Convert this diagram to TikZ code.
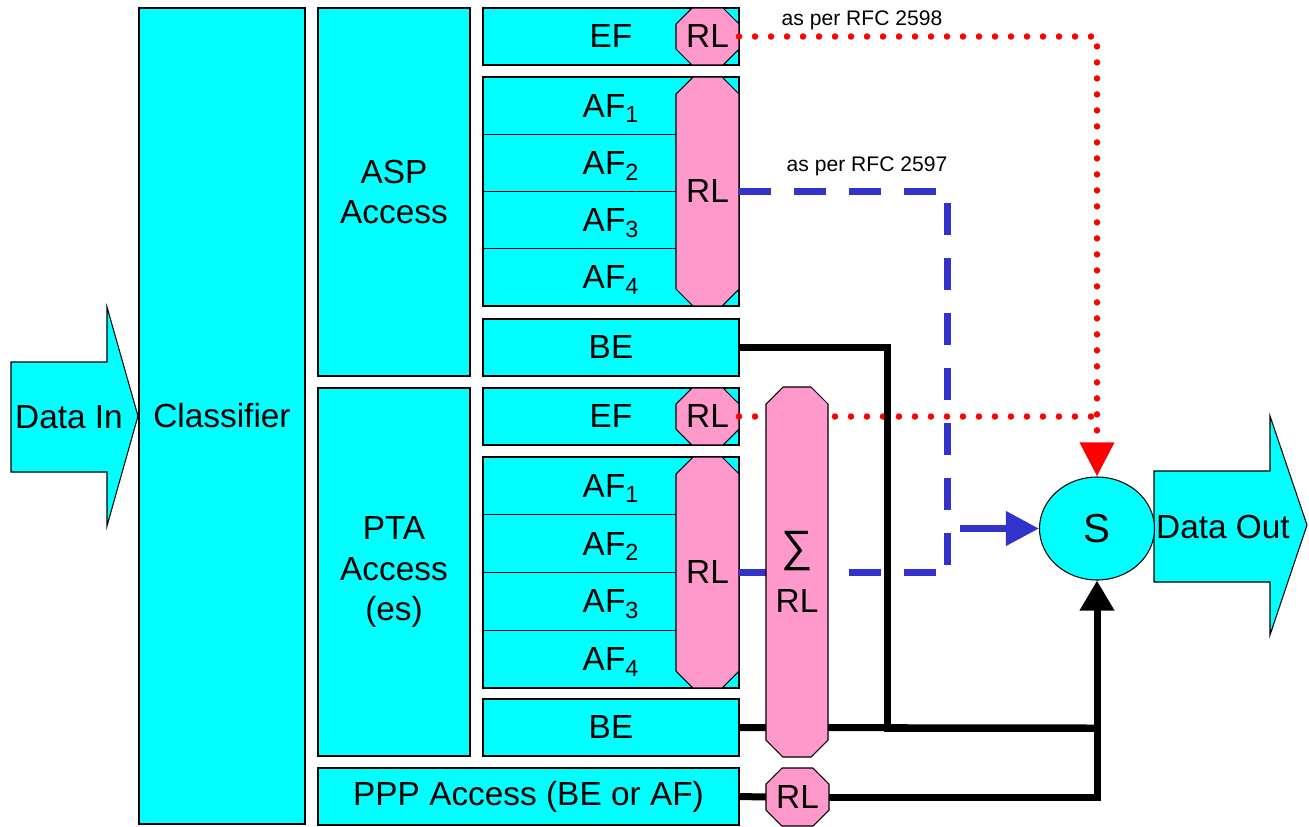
\documentclass[tikz,border=0pt]{standalone}
\usepackage{fontspec}
\setmainfont{Liberation Sans}
\usetikzlibrary{arrows.meta,shapes.geometric}
\definecolor{boxcyan}{HTML}{00FFFF}
\definecolor{rlpink}{HTML}{FF99CC}
\definecolor{lineblue}{HTML}{3333CC}
\definecolor{linered}{HTML}{FF0000}
\tikzset{
  boxshape/.style={draw=black, line width=0.6pt, fill=boxcyan, inner sep=0pt, outer sep=0pt, align=center,
     font=\fontsize{19pt}{23pt}\selectfont},
  rlshape/.style={draw=black, line width=0.6pt, fill=rlpink},
  rltext/.style={inner sep=0pt, outer sep=0pt, align=center, font=\fontsize{19pt}{23pt}\selectfont},
  bigarrow/.style={draw=black, line width=0.6pt, fill=boxcyan},
  reddot/.style={draw=linered, line width=0.13cm, line cap=round, dash pattern=on 0pt off 0.32cm},
  bluedash/.style={draw=lineblue, line width=0.14cm, dash pattern=on 0.64cm off 0.46cm},
  blueline/.style={draw=lineblue, line width=0.14cm},
  blk/.style={draw=black, line width=0.14cm},
  note/.style={inner sep=0pt, font=\fontsize{12pt}{14pt}\selectfont},
  plain/.style={inner sep=0pt, font=\fontsize{19pt}{23pt}\selectfont},
}
\newcommand{\mybox}[7][]{\node[boxshape,#1, minimum width={(#4-#2)*0.02cm}, minimum height={(#5-#3)*0.02cm}] (#6) at ({(#2+#4)/2},{(#3+#5)/2}) {#7};}
\newcommand{\myocta}[7]{%
 \filldraw[rlshape] ({#2+#6},#3) -- ({#4-#6},#3) -- (#4,{#3+#6}) -- (#4,{#5-#6}) -- ({#4-#6},#5) -- ({#2+#6},#5) -- (#2,{#5-#6}) -- (#2,{#3+#6}) -- cycle;
 \node[rltext, minimum width={(#4-#2)*0.02cm}, minimum height={(#5-#3)*0.02cm}] (#1) at ({(#2+#4)/2},{(#3+#5)/2}) {#7};}
\begin{document}
\begin{tikzpicture}[x=0.02cm, y=-0.02cm]
\useasboundingbox (0,0) rectangle (1309,826);
% Data In arrow
\filldraw[bigarrow] (11,362) -- (107,362) -- (107,307) -- (138,416) -- (107,526) -- (107,472) -- (11,472) -- cycle;
\node[plain] (din) at (69,417) {Data In};
% Classifier and access blocks
\mybox{139}{8}{305}{824}{cls}{Classifier}
\mybox{318}{8}{470}{376}{asp}{ASP\\Access}
\mybox{318}{388}{470}{756}{pta}{PTA\\Access\\(es)}
\mybox{318}{768}{739}{825}{ppp}{PPP Access (BE or AF)}
% ASP queues
\mybox{483}{8}{739}{65}{ef1}{EF}
\mybox[text depth=0pt]{483}{77}{739}{134.25}{af11}{AF\textsubscript{1}}
\mybox[text depth=0pt]{483}{134.25}{739}{191.5}{af12}{AF\textsubscript{2}}
\mybox[text depth=0pt]{483}{191.5}{739}{248.75}{af13}{AF\textsubscript{3}}
\mybox[text depth=0pt]{483}{248.75}{739}{306}{af14}{AF\textsubscript{4}}
\mybox{483}{319}{739}{376}{be1}{BE}
% PTA queues
\mybox{483}{388}{739}{445}{ef2}{EF}
\mybox[text depth=0pt]{483}{457}{739}{514.75}{af21}{AF\textsubscript{1}}
\mybox[text depth=0pt]{483}{514.75}{739}{572.5}{af22}{AF\textsubscript{2}}
\mybox[text depth=0pt]{483}{572.5}{739}{630.25}{af23}{AF\textsubscript{3}}
\mybox[text depth=0pt]{483}{630.25}{739}{688}{af24}{AF\textsubscript{4}}
\mybox{483}{699}{739}{756}{be2}{BE}
% rate limiters
\myocta{rl1}{676}{8}{739}{65}{16}{RL}
\myocta{rl2}{676}{77}{739}{306}{17}{RL}
\myocta{rl3}{676}{388}{739}{445}{16}{RL}
\myocta{rl4}{676}{457}{739}{688}{17}{RL}
\myocta{rlp}{766}{768}{829}{826}{16}{RL}
% Data Out arrow and scheduler
\filldraw[bigarrow] (1154,471) -- (1270,471) -- (1270,416) -- (1307,525) -- (1270,635) -- (1270,582) -- (1154,582) -- cycle;
\node[plain] (dout) at (1223,527) {Data Out};
\node[ellipse, draw=black, line width=0.6pt, fill=boxcyan, minimum width={115*0.02cm}, minimum height={103*0.02cm}, inner sep=0pt,
  font=\fontsize{23pt}{26pt}\selectfont] (s) at (1097,528.5) {S};
% labels
\node[note, anchor=base] (n1) at (862,25) {as per RFC 2598};
\node[note, anchor=base] (n2) at (867,171) {as per RFC 2597};
% red dotted connectors
\draw[reddot, -{Triangle[width=0.66cm,length=0.68cm]}] (rl1.east) -| (s.north);
\draw[reddot] (rl3.east) -- (rl3.east -| s.north);
% blue dashed connectors
\coordinate (bj) at (947,572.5);
\draw[bluedash] (rl2.east) -| (bj);
\draw[bluedash] (rl4.east) -- (bj);
\coordinate (ba) at (960,528.5);
\draw[blueline, -{Triangle[width=0.66cm,length=0.66cm]}] (ba) -- (s.west);
% black connectors
\coordinate (bk) at (887,728);
\coordinate (bm) at (s.south |- bk);
\draw[blk] (be1.east) -| (bk) -- (bm);
\draw[blk] (be2.east) -- (bm);
\draw[blk] (ppp.east) -- (rlp.west);
\draw[blk, -{Triangle[width=0.66cm,length=0.6cm]}] (rlp.east) -| (s.south);
% aggregate rate limiter (on top of the connectors)
\myocta{rls}{766}{387}{828}{757}{17}{{\fontsize{25pt}{25pt}\selectfont ∑}\\[6pt]RL}
\end{tikzpicture}
\end{document}
